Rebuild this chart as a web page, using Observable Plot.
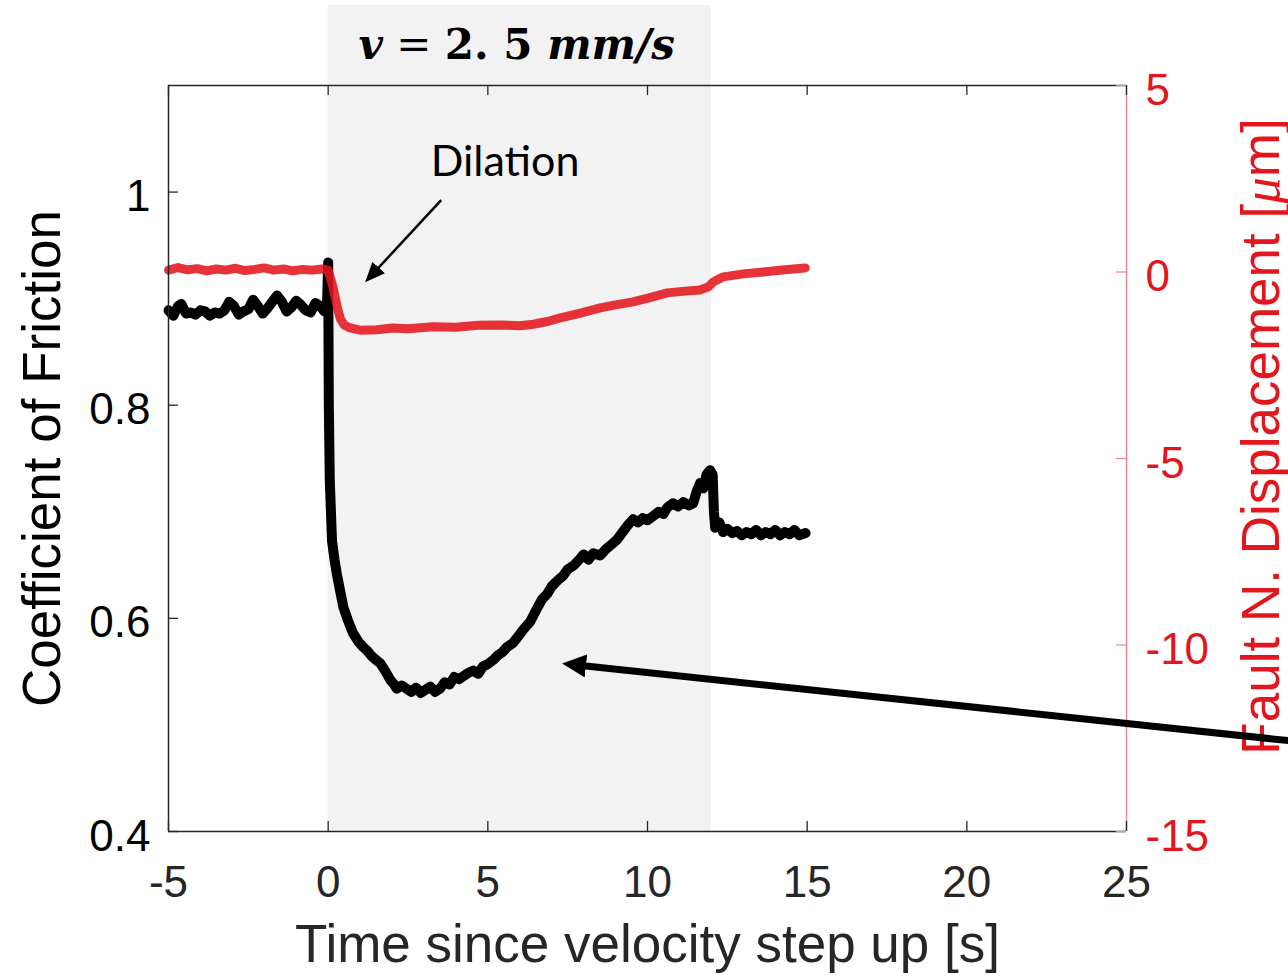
<!DOCTYPE html>
<html><head><meta charset="utf-8">
<script src="https://cdn.jsdelivr.net/npm/d3@7"></script>
<script src="https://cdn.jsdelivr.net/npm/@observablehq/plot@0.6"></script>
<style>html,body{margin:0;padding:0;background:#fff;overflow:hidden}</style>
</head><body><div id="chart"></div><script>
// ---------- data ----------
const frictionTime = [-5.0,-4.85,-4.7,-4.6,-4.45,-4.3,-4.15,-4.0,-3.85,-3.7,-3.55,-3.4,-3.25,-3.1,-2.95,-2.8,-2.65,-2.5,-2.35,-2.2,-2.05,-1.9,-1.75,-1.6,-1.45,-1.3,-1.15,-1.0,-0.85,-0.7,-0.55,-0.4,-0.25,-0.12,-0.04,
  0.0,0.02,0.05,0.12,0.2,0.27,0.38,0.48,0.62,0.78,0.95,1.1,1.21,1.35,1.5,1.63,1.8,1.95,2.04,2.15,2.3,2.45,2.6,2.75,2.9,3.05,3.2,3.35,3.5,3.65,3.8,3.95,4.1,4.25,4.4,4.55,4.7,4.85,5.0,5.17,5.3,5.45,5.6,5.79,5.95,6.1,6.33,6.5,6.7,6.86,7.0,7.2,7.36,7.5,7.7,7.89,8.0,8.15,8.3,8.52,8.7,8.9,9.05,9.2,9.4,9.55,9.7,9.85,10.0,10.18,10.35,10.5,10.62,10.8,10.95,11.12,11.3,11.43,11.55,11.65,11.75,11.85,11.96,12.04,12.08,12.12,12.25,12.37,12.5,12.65,12.8,12.95,13.1,13.25,13.4,13.55,13.7,13.85,14.0,14.15,14.3,14.45,14.6,14.75,14.95];
const frictionValue = [0.889,0.884,0.893,0.895,0.886,0.887,0.885,0.889,0.888,0.884,0.887,0.886,0.889,0.897,0.893,0.885,0.888,0.890,0.899,0.893,0.886,0.891,0.897,0.903,0.897,0.888,0.892,0.898,0.894,0.889,0.887,0.896,0.893,0.888,0.890,
  0.934,0.800,0.730,0.673,0.655,0.642,0.625,0.610,0.598,0.586,0.578,0.573,0.570,0.565,0.561,0.558,0.550,0.542,0.539,0.534,0.537,0.534,0.531,0.535,0.530,0.533,0.536,0.531,0.534,0.540,0.538,0.545,0.543,0.546,0.549,0.551,0.548,0.555,0.557,0.561,0.565,0.568,0.573,0.577,0.583,0.589,0.597,0.607,0.618,0.623,0.630,0.636,0.640,0.646,0.650,0.656,0.660,0.655,0.661,0.659,0.665,0.670,0.674,0.680,0.688,0.693,0.690,0.694,0.692,0.696,0.700,0.698,0.704,0.708,0.705,0.709,0.706,0.708,0.720,0.727,0.722,0.735,0.739,0.735,0.700,0.685,0.690,0.681,0.684,0.680,0.682,0.678,0.681,0.679,0.683,0.678,0.681,0.679,0.683,0.678,0.681,0.679,0.683,0.678,0.680];

const dispTime = [-5.0,-4.7,-4.4,-4.1,-3.8,-3.5,-3.2,-2.9,-2.6,-2.3,-2.0,-1.7,-1.4,-1.1,-0.8,-0.5,-0.2,0.0,0.15,0.3,0.38,0.5,0.69,1.0,1.53,2.0,2.5,3.29,4.0,4.7,5.39,6.0,6.42,6.9,7.27,7.9,8.52,9.0,9.55,10.1,10.62,11.1,11.65,11.9,12.06,12.37,13.0,13.62,14.3,14.94];
const dispValue = [0.05,0.12,0.06,0.09,0.03,0.08,0.05,0.10,0.04,0.07,0.11,0.05,0.08,0.03,0.07,0.05,0.08,0.05,-0.40,-1.00,-1.25,-1.42,-1.50,-1.56,-1.55,-1.50,-1.52,-1.47,-1.48,-1.43,-1.42,-1.44,-1.40,-1.32,-1.23,-1.10,-0.96,-0.88,-0.80,-0.68,-0.56,-0.52,-0.48,-0.40,-0.27,-0.13,-0.05,0.00,0.06,0.11];

const xTicks = [-5,0,5,10,15,20,25];
const leftTicks = [0.4,0.6,0.8,1];
const rightTicks = [-15,-10,-5,0,5];
const leftDomain = [0.4,1.1];
const rightDomain = [-15,5];
const shadeStart = [0];
const shadeEnd = [12];

const titleText = "v = 2.5 mm/s";
const xLabel = "Time since velocity step up [s]";
const yLabel = "Coefficient of Friction";
const y2Label = "Fault N. Displacement [μm]";
const dilationLabel = [{t:5.54, f:1.028, text:"Dilation"}];
const dilationArrow = [{t1:3.54, f1:0.9925, t2:1.37, f2:0.9223}];
const bigArrow = [{t1:31.1, f1:0.482, t2:7.70, f2:0.5565}];

// map right-axis values into left-axis units
const toLeft = d => leftDomain[0] + (d - rightDomain[0]) / (rightDomain[1]-rightDomain[0]) * (leftDomain[1]-leftDomain[0]);
const fromLeft = v => rightDomain[0] + (v - leftDomain[0]) / (leftDomain[1]-leftDomain[0]) * (rightDomain[1]-rightDomain[0]);

const friction = frictionTime.map((t,i)=>({t, v: frictionValue[i]}));
const disp = dispTime.map((t,i)=>({t, v: dispValue[i]}));

const RED = "#e2161c";
const DARK = "#262626";
const SANS = "Liberation Sans, Arial, sans-serif";

const W = 1288, H = 978;
const mT = 85, mR = 162, mB = 147, mL = 168;
const plotW = W - mL - mR, plotH = H - mT - mB;
const tickLen = 10;

const svg = Plot.plot({
  width: W, height: H,
  marginTop: mT, marginRight: mR, marginBottom: mB, marginLeft: mL,
  style: {fontFamily: SANS, fontSize: "44px", background: "#fff", overflow: "visible"},
  x: {domain: [-5,25]},
  y: {domain: leftDomain},
  marks: [
    Plot.rect(shadeStart.map((s,i)=>({s, e: shadeEnd[i]})), {x1:"s", x2:"e", y1: ()=>leftDomain[0], y2: ()=>leftDomain[1], fill:"#f2f2f2", insetTop: -80}),
    Plot.line(friction, {x:"t", y:"v", stroke:"#000", strokeWidth:10, strokeLinejoin:"round", strokeLinecap:"round"}),
    Plot.line(disp, {x:"t", y: d=>toLeft(d.v), stroke: RED, strokeOpacity: 0.88, strokeWidth:9, strokeLinejoin:"round", strokeLinecap:"round"}),
    // frame
    Plot.ruleY([leftDomain[1]], {stroke: DARK, strokeWidth: 1.5}),
    Plot.ruleY([leftDomain[0]], {stroke: DARK, strokeWidth: 1.5}),
    Plot.ruleX([-5], {stroke: DARK, strokeWidth: 1.5}),
    Plot.ruleX([25], {stroke: "#f08a8c", strokeWidth: 1.5}),
    // ticks
    Plot.tickX(xTicks, {x: d=>d, stroke: DARK, strokeWidth: 1.3, insetTop: plotH - tickLen}),
    Plot.tickX(xTicks, {x: d=>d, stroke: DARK, strokeWidth: 1.3, insetBottom: plotH - tickLen}),
    Plot.tickY(leftTicks, {y: d=>d, stroke: DARK, strokeWidth: 1.3, insetRight: plotW - tickLen}),
    Plot.tickY(rightTicks, {y: d=>toLeft(d), stroke: "#f08a8c", strokeWidth: 1.3, insetLeft: plotW - tickLen}),
    // axes labels
    Plot.axisX({ticks: xTicks, tickSize: 0, tickPadding: 34, tickFormat: d=>String(d), fill: DARK, label: null}),
    Plot.axisY({anchor:"left", ticks: leftTicks, tickSize: 0, tickPadding: 18, dy: 5, tickFormat: d=>String(d), fill: "#000", label: null}),
    Plot.axisY({anchor:"right", ticks: rightTicks.map(toLeft), tickSize: 0, tickPadding: 19, dy: 5, tickFormat: v=>String(Math.round(fromLeft(v))), fill: RED, label: null}),
    Plot.text([xLabel], {frameAnchor:"bottom", textAnchor:"middle", lineAnchor:"middle", dy: 114, fontSize: 53, fill: DARK}),
    Plot.text([yLabel], {frameAnchor:"left", textAnchor:"middle", lineAnchor:"middle", dx: -125, rotate: -90, fontSize: 53, fill: "#000"}),
    Plot.text([y2Label], {frameAnchor:"right", textAnchor:"middle", lineAnchor:"middle", dx: 136, dy: -22, rotate: -90, fontSize: 53, fill: RED}),
    // title
    Plot.text(shadeStart.map((s,i)=>({c:(s+shadeEnd[i])/2, text: titleText})), {x:"c", frameAnchor:"top", lineAnchor:"middle", dy: -40, dx: -3, text:"text", fontSize: 42, fontWeight: "bold", fontFamily: "DejaVu Serif, serif", fill:"#000"}),
    // annotations
    Plot.text(dilationLabel, {x:"t", y:"f", text:"text", fontSize: 43, fontFamily: "Lato, sans-serif", fill: "#000"}),
    Plot.link(dilationArrow, {x1:"t1", y1:"f1", x2:"t2", y2:"f2", stroke:"#000", strokeWidth: 2.5}),
    Plot.link(bigArrow, {x1:"t1", y1:"f1", x2:"t2", y2:"f2", stroke:"#000", strokeWidth: 7})
  ]
});

// arrowheads (filled triangles)
const s = d3.select(svg);
const defs = s.insert("defs", ":first-child");
function addHead(id, len, wid) {
  defs.append("marker").attr("id", id)
    .attr("viewBox", "0 0 10 10").attr("refX", 5).attr("refY", 5)
    .attr("markerWidth", len).attr("markerHeight", wid)
    .attr("markerUnits", "userSpaceOnUse").attr("orient", "auto")
    .attr("preserveAspectRatio", "none")
    .append("path").attr("d", "M0,0L10,5L0,10Z").attr("fill", "#000").attr("stroke", "none");
}
addHead("headA", 20, 17);
addHead("headB", 24, 23);
const linkPaths = s.selectAll('g[aria-label="link"] path').nodes();
if (linkPaths[0]) linkPaths[0].setAttribute("marker-end", "url(#headA)");
if (linkPaths[1]) linkPaths[1].setAttribute("marker-end", "url(#headB)");

// rich text for title and right label
s.selectAll("text").each(function() {
  const t = d3.select(this);
  if (this.textContent === titleText) {
    t.text("");
    t.append("tspan").attr("font-style", "italic").text("v");
    t.append("tspan").attr("font-weight", "normal").text(" = ");
    t.append("tspan").text("2. 5 ");
    t.append("tspan").attr("font-style", "italic").text("mm/s");
  } else if (this.textContent === y2Label) {
    t.text("");
    t.append("tspan").text("Fault N. Displacement [");
    t.append("tspan").attr("font-style", "italic").attr("font-family", "Liberation Serif, serif").text("μ");
    t.append("tspan").text("m]");
  }
});

document.getElementById("chart").appendChild(svg);
</script></body></html>
